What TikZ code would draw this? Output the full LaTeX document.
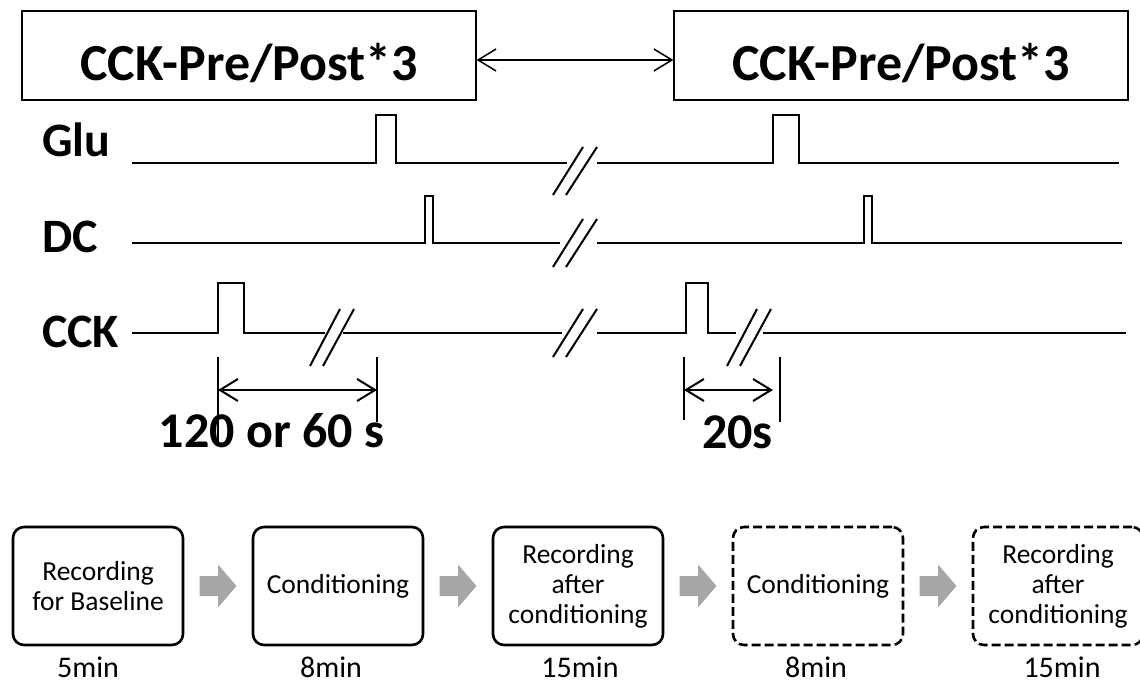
\documentclass[tikz,border=0pt]{standalone}
\usepackage{fontspec}
\setmainfont{Carlito}
\usetikzlibrary{arrows.meta,positioning,calc}
\definecolor{ArrowGrey}{HTML}{A6A6A6}

\begin{document}
\begin{tikzpicture}[x=1pt, y=-1pt,
  titlebox/.style={draw, line width=1.3pt, minimum width=454pt, minimum height=89pt, inner sep=0pt, text height=62pt, text depth=11pt, font=\fontsize{52}{60}\selectfont\bfseries},
  siglabel/.style={anchor=base west, inner sep=0pt, font=\fontsize{48}{56}\selectfont\bfseries},
  trace/.style={line width=2pt, line join=miter},
  brk/.style={line width=2pt},
  tick/.style={line width=2pt},
  dim/.style={line width=2pt, {Straight Barb[length=18pt,width=22pt]}-{Straight Barb[length=18pt,width=22pt]}},
  dimtext/.style={anchor=base, inner sep=0pt, font=\fontsize{50}{58}\selectfont\bfseries},
  phase/.style={draw, line width=2.6pt, rounded corners=11pt, minimum width=170pt, minimum height=118pt, align=center, inner sep=0pt, font=\fontsize{27.5}{30}\selectfont},
  optphase/.style={phase, dash pattern=on 9pt off 4pt},
  dur/.style={anchor=base, inner sep=0pt, font=\fontsize{30}{36}\selectfont},
  flowarrow/.pic={\fill[ArrowGrey] (-18.5,-10) -- (0,-10) -- (0,-21.5) -- (18.5,0) -- (0,21.5) -- (0,10) -- (-18.5,10) -- cycle;}
]
  \useasboundingbox (0,0) rectangle (1140,684);

  % top: repeated block
  \node[titlebox] (pre1) at (249,55.5) {CCK-Pre/Post*3};
  \node[titlebox, right=196.7pt of pre1] (pre2) {CCK-Pre/Post*3};
  \draw[dim, line width=1.5pt] ([yshift=-4.5pt]pre1.east) -- ([yshift=-4.5pt]pre2.west);

  % stimulus traces
  \node[siglabel] (glu) at (42,157) {Glu};
  \node[siglabel] (dc) at (42,253) {DC};
  \node[siglabel] (cck) at (42,348) {CCK};

  \draw[trace] (132,163) -- (376,163) -- (376,115) -- (396,115) -- (396,163) -- (567,163);
  \draw[trace] (597,163) -- (773,163) -- (773,115) -- (799,115) -- (799,163) -- (1119,163);
  \draw[trace] (132,243) -- (425,243) -- (425,196) -- (433,196) -- (433,243) -- (560,243);
  \draw[trace] (597,243) -- (864,243) -- (864,196) -- (872,196) -- (872,243) -- (1122,243);
  \draw[trace] (132,333) -- (218,333) -- (218,283) -- (244,283) -- (244,333) -- (325,333);
  \draw[trace] (343,333) -- (562,333);
  \draw[trace] (597,333) -- (686,333) -- (686,283) -- (708,283) -- (708,333) -- (736,333);
  \draw[trace] (763,333) -- (1126,333);

  % breaks
  \foreach \bx/\by in {553/195, 553/267, 553/357} {
    \draw[brk] (\bx,\by) -- ++(30,-48);
    \draw[brk] (\bx+13,\by) -- ++(31,-48);
  }
  \foreach \bx/\by in {310/366, 727/366} {
    \draw[brk] (\bx,\by) -- ++(30,-57);
    \draw[brk] (\bx+13,\by) -- ++(31,-57);
  }

  % intervals
  \coordinate (iva) at (218,390);
  \coordinate (ivb) at (377,390);
  \draw[tick] (218,357) -- (218,445);
  \draw[tick] (377,357) -- (377,422);
  \draw[dim] (iva) -- (ivb);
  \node[dimtext] (ivlong) at (271.5,447) {120 or 60 s};

  \coordinate (isa) at (684,390);
  \coordinate (isb) at (773,390);
  \draw[tick] (684,357) -- (684,420);
  \draw[tick] (780,357) -- (780,422);
  \draw[dim] (isa) -- (isb);
  \node[dimtext] (ivshort) at (737.5,448) {20s};

  % protocol
  \node[phase] (r1) at (98,586) {Recording\\for Baseline};
  \node[phase, right=67.4pt of r1] (r2) {Conditioning};
  \node[phase, right=67.4pt of r2] (r3) {Recording\\after\\conditioning};
  \node[optphase, right=67.4pt of r3] (r4) {Conditioning};
  \node[optphase, right=67.4pt of r4] (r5) {Recording\\after\\conditioning};
  \foreach \a/\b in {r1/r2, r2/r3, r3/r4, r4/r5}
    \pic at ($(\a.east)!0.5!(\b.west)$) {flowarrow};

  \node[dur] (t1) at (88,677) {5min};
  \node[dur] (t2) at (331,677) {8min};
  \node[dur] (t3) at (580,677) {15min};
  \node[dur] (t4) at (816,677) {8min};
  \node[dur] (t5) at (1062,677) {15min};
\end{tikzpicture}
\end{document}
